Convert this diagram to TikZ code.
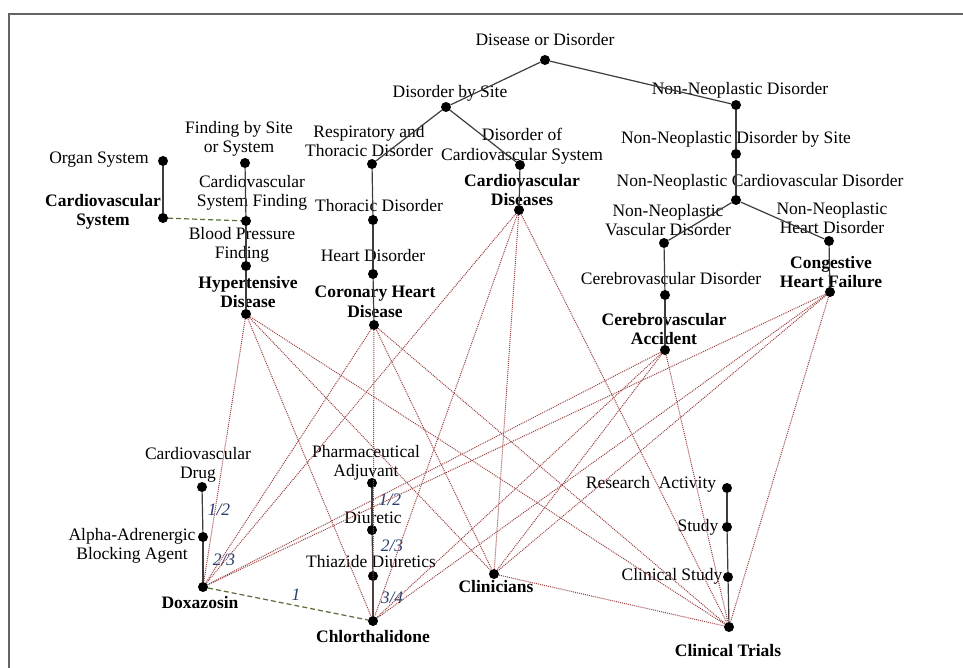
\documentclass[tikz,border=0pt]{standalone}
\usepackage{fontspec}
\setmainfont{Liberation Serif}
\definecolor{edgegray}{RGB}{60,60,60}
\definecolor{framegray}{RGB}{100,100,100}
\definecolor{reddot}{RGB}{155,65,65}
\definecolor{olivedash}{RGB}{90,110,60}
\definecolor{fracblue}{RGB}{40,60,110}
\begin{document}
\begin{tikzpicture}[x=1pt,y=-1pt,
  dot/.style={circle, fill=black, inner sep=0pt, minimum size=10pt},
  lbl/.style={font=\fontsize{17.5}{19.5}\selectfont, align=center, inner sep=0pt},
  blbl/.style={font=\fontsize{17.5}{19.5}\selectfont\bfseries, align=center, inner sep=0pt},
  frac/.style={font=\fontsize{17.5}{19.5}\selectfont\itshape, text=fracblue, inner sep=0pt},
  tree/.style={draw=edgegray, line width=1.2pt},
  rel/.style={draw=reddot, line width=1pt, dash pattern=on 1pt off 1pt},
  same/.style={draw=olivedash, line width=1.2pt, dash pattern=on 5pt off 3pt}]
\useasboundingbox (0,0) rectangle (963,668);
\draw[framegray, line width=2pt] (9,668) -- (9,14) -- (963,14);

% dots
\node[dot] (dd)   at (545,60) {};
\node[dot] (dbs)  at (446,107) {};
\node[dot] (nnd)  at (736,105) {};
\node[dot] (nnds) at (736,154) {};
\node[dot] (nncd) at (736,200) {};
\node[dot] (nnvd) at (664,243) {};
\node[dot] (nnhd) at (829,241) {};
\node[dot] (cbd)  at (665,295) {};
\node[dot] (cva)  at (665,350) {};
\node[dot] (chf)  at (830,292) {};
\node[dot] (docs) at (520,165) {};
\node[dot] (cvd)  at (519,210) {};
\node[dot] (rtd)  at (372,164) {};
\node[dot] (thd)  at (373,220) {};
\node[dot] (hd)   at (373,274) {};
\node[dot] (chd)  at (374,325) {};
\node[dot] (fss)  at (245,163) {};
\node[dot] (csf)  at (246,221) {};
\node[dot] (bpf)  at (246,266) {};
\node[dot] (hyp)  at (246,314) {};
\node[dot] (os)   at (163,161) {};
\node[dot] (cvs)  at (163,218) {};
\node[dot] (cdr)  at (202,487) {};
\node[dot] (aab)  at (203,537) {};
\node[dot] (dox)  at (203,587) {};
\node[dot] (pha)  at (372,483) {};
\node[dot] (diu)  at (372,530) {};
\node[dot] (thz)  at (373,576) {};
\node[dot] (chl)  at (373,621) {};
\node[dot] (cli)  at (494,574) {};
\node[dot] (ra)   at (727,488) {};
\node[dot] (st)   at (727,527) {};
\node[dot] (cs)   at (728,577) {};
\node[dot] (ct)   at (729,627) {};

% labels
\node[lbl] (l-dd)   at (545,40) {Disease or Disorder};
\node[lbl] (l-dbs)  at (450,93) {Disorder by Site};
\node[lbl] (l-nnd)  at (740,90) {Non-Neoplastic Disorder};
\node[lbl] (l-nnds) at (736,139) {Non-Neoplastic Disorder by Site};
\node[lbl] (l-nncd) at (760,182) {Non-Neoplastic Cardiovascular Disorder};
\node[lbl] (l-nnvd) at (668,220) {Non-Neoplastic\\Vascular Disorder};
\node[lbl] (l-nnhd) at (832,218) {Non-Neoplastic\\Heart Disorder};
\node[lbl] (l-cbd)  at (671,279) {Cerebrovascular Disorder};
\node[blbl] (l-cva) at (664,329) {Cerebrovascular\\Accident};
\node[blbl] (l-chf) at (831,272) {Congestive\\Heart Failure};
\node[lbl] (l-docs) at (522,146) {Disorder of\\Cardiovascular System};
\node[blbl] (l-cvd) at (522,190) {Cardiovascular\\Diseases};
\node[lbl] (l-rtd)  at (369,141) {Respiratory and\\Thoracic Disorder};
\node[lbl] (l-thd)  at (379,206) {Thoracic Disorder};
\node[lbl] (l-hd)   at (373,256) {Heart Disorder};
\node[blbl] (l-chd) at (375,302) {Coronary Heart\\Disease};
\node[lbl] (l-fss)  at (239,139) {Finding by Site\\or System};
\node[lbl] (l-csf)  at (252,193) {Cardiovascular\\System Finding};
\node[lbl] (l-bpf)  at (242,245) {Blood Pressure\\Finding};
\node[blbl] (l-hyp) at (248,292) {Hypertensive\\Disease};
\node[lbl] (l-os)   at (99,160) {Organ System};
\node[blbl] (l-cvs) at (103,212) {Cardiovascular\\System};
\node[lbl] (l-cdr)  at (198,465) {Cardiovascular\\Drug};
\node[lbl] (l-aab)  at (132,546) {Alpha-Adrenergic\\Blocking Agent};
\node[blbl] (l-dox) at (200,603) {Doxazosin};
\node[lbl] (l-pha)  at (366,463) {Pharmaceutical\\Adjuvant};
\node[lbl] (l-diu)  at (373,518) {Diuretic};
\node[lbl] (l-thz)  at (371,562) {Thiazide Diuretics};
\node[blbl] (l-chl) at (373,637) {Chlorthalidone};
\node[blbl] (l-cli) at (496,587) {Clinicians};
\node[lbl] (l-ra)   at (651,484) {Research\ \ Activity};
\node[lbl] (l-st)   at (698,527) {Study};
\node[lbl] (l-cs)   at (672,576) {Clinical Study};
\node[blbl] (l-ct)  at (728,651) {Clinical Trials};

% fraction labels
\node[frac] (f1) at (219,510) {1/2};
\node[frac] (f2) at (224,560) {2/3};
\node[frac] (f3) at (390,500) {1/2};
\node[frac] (f4) at (392,546) {2/3};
\node[frac] (f5) at (392,598) {3/4};
\node[frac] (f6) at (296,595) {1};

% tree edges
\draw[tree] (dd) -- (dbs);
\draw[tree] (dd) -- (nnd);
\draw[tree] (dbs) -- (rtd);
\draw[tree] (dbs) -- (docs);
\draw[tree] (nnd) -- (nnds);
\draw[tree] (nnds) -- (nncd);
\draw[tree] (nncd) -- (nnvd);
\draw[tree] (nncd) -- (nnhd);
\draw[tree] (nnvd) -- (cbd);
\draw[tree] (cbd) -- (cva);
\draw[tree] (nnhd) -- (chf);
\draw[tree] (docs) -- (cvd);
\draw[tree] (rtd) -- (thd);
\draw[tree] (thd) -- (hd);
\draw[tree] (hd) -- (chd);
\draw[tree] (fss) -- (csf);
\draw[tree] (csf) -- (bpf);
\draw[tree] (bpf) -- (hyp);
\draw[tree] (os) -- (cvs);
\draw[tree] (cdr) -- (aab);
\draw[tree] (aab) -- (dox);
\draw[tree] (pha) -- (diu);
\draw[tree] (diu) -- (thz);
\draw[tree] (thz) -- (chl);
\draw[tree] (ra) -- (st);
\draw[tree] (st) -- (cs);
\draw[tree] (cs) -- (ct);

% similarity links
\draw[same] (cvs) -- (csf);
\draw[same] (dox) -- (chl);

% relation links
\foreach \s in {hyp,chd,cvd,cva,chf}
  \foreach \t in {dox,chl,cli,ct}
    \draw[rel] (\s) -- (\t);
\draw[rel] (cli) -- (ct);
\end{tikzpicture}
\end{document}
